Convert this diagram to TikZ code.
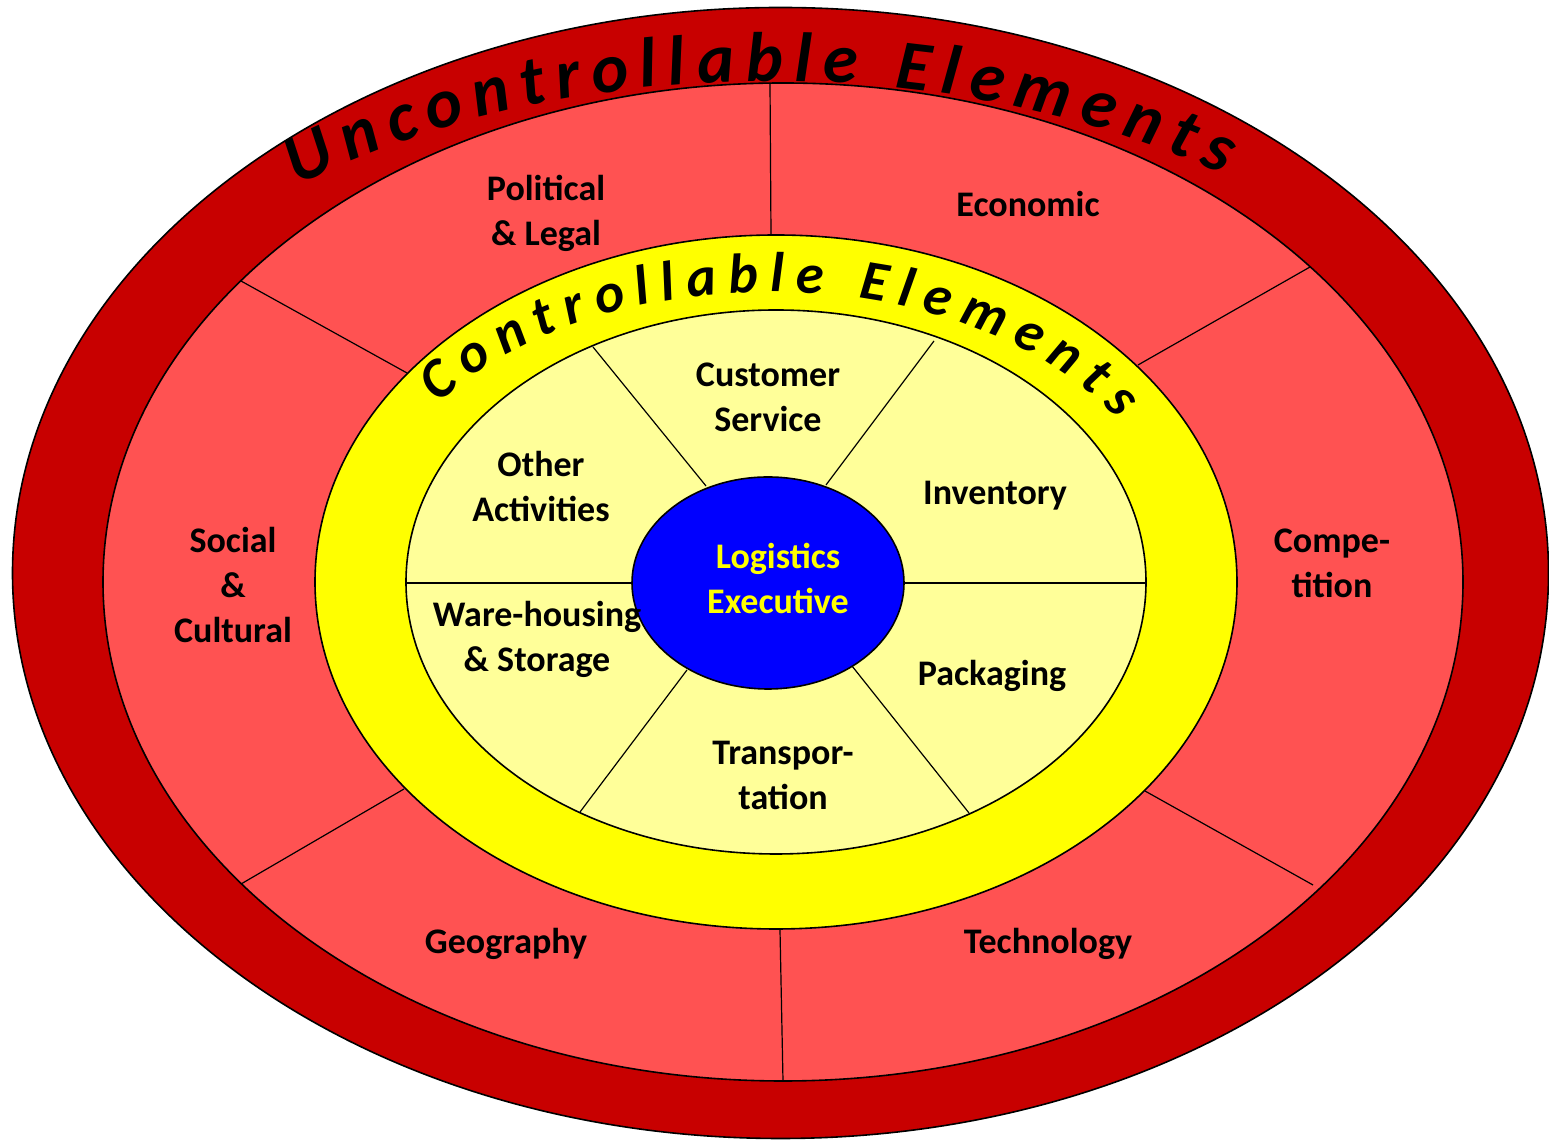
\documentclass[tikz,border=0pt]{standalone}
\usepackage{fontspec}
\setmainfont{Carlito}
\usetikzlibrary{decorations.text}
\definecolor{outerred}{RGB}{200,0,0}
\definecolor{envred}{RGB}{255,82,82}
\definecolor{ringyellow}{RGB}{255,255,0}
\definecolor{coreyellow}{RGB}{255,255,153}
\definecolor{execblue}{RGB}{0,0,255}
\tikzset{
  rim/.style={draw=black, line width=0.8pt},
  spoke/.style={draw=black, line width=0.6pt},
  field/.style={font=\fontsize{18}{22.5}\selectfont\bfseries, align=center, inner sep=0pt},
}
\begin{document}
\begin{tikzpicture}[x=0.5pt,y=0.5pt]
    \useasboundingbox (0,0) rectangle (1549,1140);
    % uncontrollable elements
    \draw [rim, fill=outerred] (780.5,567) ellipse [x radius=768, y radius=565.5];
    \draw [rim, fill=envred] (783,558) ellipse [x radius=680, y radius=499];
    \draw [spoke] (770,1057)--(771,905);
    \draw [spoke] (241,859)--(407,767);
    \draw [spoke] (1310,873)--(1138,775);
    \draw [spoke] (241,256)--(404,351);
    \draw [spoke] (1313,255)--(1145,349);
    \draw [spoke] (780,210)--(783,59);
    % controllable elements
    \draw [rim, fill=ringyellow] (776,558) ellipse [x radius=461, y radius=347];
    \draw [rim, fill=coreyellow] (776,558) ellipse [x radius=370, y radius=272];
    \draw [spoke] (593,793)--(706,654);
    \draw [spoke] (934,799)--(826,655);
    \draw [spoke] (406,557)--(632,557);
    \draw [spoke] (904,557)--(1146,557);
    \draw [spoke] (580,328)--(687,470);
    \draw [spoke] (969,327)--(852,474);
    \draw [rim, fill=execblue] (768,557) ellipse [x radius=136, y radius=106];
    % labels
    \node [field] (political) at (546,927) {Political\\\& Legal};
    \node [field] (economic) at (1028,936) {Economic};
    \node [field] (social) at (233,555) {Social\\\&\\Cultural};
    \node [field] (competition) at (1332,577) {Compe-\\tition};
    \node [field] (geography) at (506,196) {Geography};
    \node [field] (technology) at (1048,196) {Technology};
    \node [field] (service) at (768,743) {Customer\\Service};
    \node [field] (other) at (541,653) {Other\\Activities};
    \node [field] (inventory) at (995,644) {Inventory};
    \node [field] (warehousing) at (537,501) {Ware-housing\\\& Storage};
    \node [field] (packaging) at (992,464) {Packaging};
    \node [field] (transport) at (783,365) {Transpor-\\tation};
    \node [field, text=ringyellow] (executive) at (778,562) {Logistics\\Executive};
    % curved titles
    \path [decorate, decoration={text along path, text align={fit to path},
        text={|\fontsize{35}{40}\selectfont\bfseries\itshape|Uncontrollable Elements}}]
        (771,579) ++(128.5:760 and 480) arc [start angle=128.5, end angle=53.5, x radius=760, y radius=480];
    \path [decorate, decoration={text along path, text align={fit to path},
        text={|\fontsize{28}{32}\selectfont\bfseries\itshape|Controllable Elements}}]
        (770,603) ++(147:395 and 245) arc [start angle=147, end angle=28.5, x radius=395, y radius=245];
\end{tikzpicture}
\end{document}
